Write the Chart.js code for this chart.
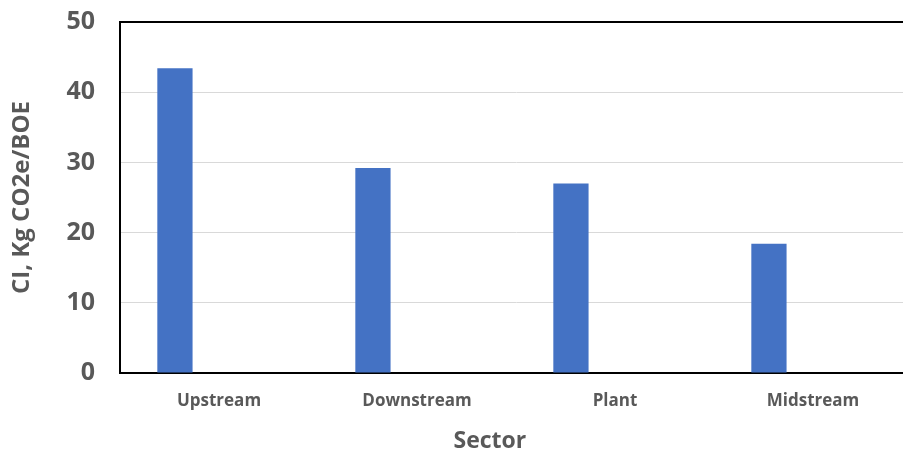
<!DOCTYPE html>
<html>
<head>
<meta charset="utf-8">
<script src="https://cdn.jsdelivr.net/npm/chart.js@4/dist/chart.umd.min.js"></script>
<style>
  html, body { margin: 0; padding: 0; background: #ffffff; overflow: hidden; }
  #wrap { position: relative; width: 916px; height: 452px; }
  #chart { display: block; }
</style>
</head>
<body>
<div id="wrap"><canvas id="chart" width="916" height="452"></canvas></div>
<script>
// Carbon intensity by sector
const sectors = ['Upstream', 'Downstream', 'Plant', 'Midstream'];
const ciValues = [43.4, 29.2, 27.0, 18.4];
const blankSeries = [null, null, null, null];
const yTickValues = [0, 10, 20, 30, 40, 50];

const yTitle = 'CI, Kg CO2e/BOE';
const xTitle = 'Sector';

const textGray = '#595959';
const barBlue = '#4472C4';
const fontFamily = "'Open Sans', 'Liberation Sans', sans-serif";

// Frame line on top of the plot area and the horizontal axis title
const framePlugin = {
  id: 'frame',
  afterDraw(chart) {
    const { ctx, chartArea } = chart;
    ctx.save();
    ctx.strokeStyle = '#000000';
    ctx.lineWidth = 2;
    ctx.beginPath();
    ctx.moveTo(chartArea.left - 1, chartArea.top);
    ctx.lineTo(chartArea.right + 1, chartArea.top);
    ctx.stroke();

    ctx.fillStyle = textGray;
    ctx.font = 'bold 23px ' + fontFamily;
    ctx.textAlign = 'center';
    ctx.textBaseline = 'middle';
    const cx = chartArea.left + (chartArea.right - chartArea.left) * 0.467;
    ctx.fillText(xTitle, cx, 441);
    ctx.restore();
  }
};

new Chart(document.getElementById('chart'), {
  type: 'bar',
  data: {
    labels: sectors,
    datasets: [
      {
        label: 'CI',
        data: ciValues,
        backgroundColor: barBlue,
        borderWidth: 0,
        categoryPercentage: 0.89,
        barPercentage: 0.4
      },
      {
        label: '',
        data: blankSeries,
        backgroundColor: barBlue,
        categoryPercentage: 0.89,
        barPercentage: 0.4
      }
    ]
  },
  options: {
    responsive: false,
    animation: false,
    devicePixelRatio: 1,
    layout: { padding: { top: 22, right: 4, bottom: 0, left: 0 } },
    plugins: {
      legend: { display: false },
      tooltip: { enabled: false }
    },
    scales: {
      x: {
        grid: { display: false, drawTicks: false },
        border: { display: true, color: '#000000', width: 2 },
        ticks: {
          color: textGray,
          padding: 18,
          font: { family: fontFamily, size: 17, weight: 'bold' },
          maxRotation: 0
        },
        afterFit(scale) {
          scale.height = 452 - 373;
          scale.paddingLeft = 0;
          scale.paddingRight = 0;
        }
      },
      y: {
        min: 0,
        max: 50,
        afterBuildTicks(scale) {
          scale.ticks = yTickValues.map(v => ({ value: v }));
        },
        grid: { color: '#d9d9d9', lineWidth: 1, drawTicks: false },
        border: { display: true, color: '#000000', width: 2 },
        ticks: {
          color: textGray,
          padding: 25,
          font: { family: fontFamily, size: 25, weight: 'bold' }
        },
        title: {
          display: true,
          text: yTitle,
          color: textGray,
          padding: { top: 8, bottom: 0 },
          font: { family: fontFamily, size: 24, weight: 'bold' }
        },
        afterFit(scale) {
          scale.width = 120;
          scale.paddingTop = 0;
          scale.paddingBottom = 0;
        }
      }
    }
  },
  plugins: [framePlugin]
});
</script>
</body>
</html>
